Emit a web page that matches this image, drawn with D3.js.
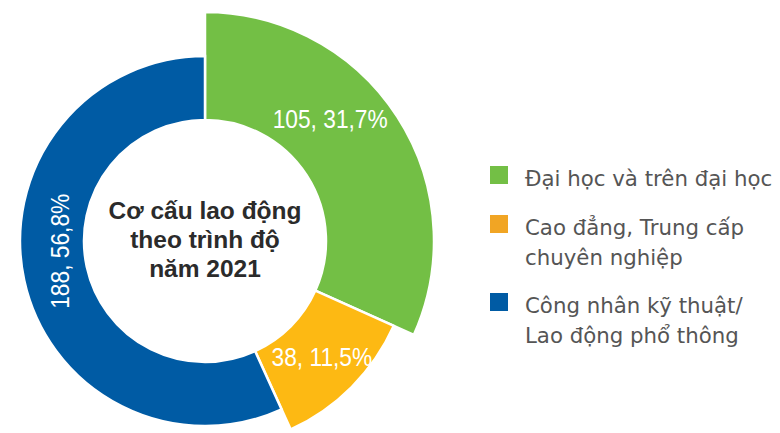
<!DOCTYPE html>
<html>
<head>
<meta charset="utf-8">
<script src="https://cdn.jsdelivr.net/npm/d3@7"></script>
<style>
  html, body { margin: 0; padding: 0; background: #ffffff; }
  svg { display: block; }
</style>
</head>
<body>
<div id="chart"></div>
<script>
// ---- data ----
const categories = ["Đại học và trên đại học", "Cao đẳng, Trung cấp chuyên nghiệp", "Công nhân kỹ thuật/ Lao động phổ thông"];
const values = [105, 38, 188];
const percentLabels = ["31,7%", "11,5%", "56,8%"];
const legendLines = [["Đại học và trên đại học"], ["Cao đẳng, Trung cấp", "chuyên nghiệp"], ["Công nhân kỹ thuật/", "Lao động phổ thông"]];
const titleLines = ["Cơ cấu lao động", "theo trình độ", "năm 2021"];

// ---- styles ----
const sliceColors = ["#73bf45", "#fdb913", "#005ba4"];
const legendColors = ["#73bf45", "#f1a524", "#005ba4"];
const outerRadii = [229, 207, 185];
const innerRadius = 121;
const labelAngleFrac = [0.40, 0.50, 0.54];
const labelRadiusFrac = [0.50, 0.51, 0.38];

const W = 780, H = 433;
const cx = 205, cy = 241;

const svg = d3.select("#chart").append("svg").attr("width", W).attr("height", H);

const pie = d3.pie().sort(null).value(d => d);
const arcs = pie(values);

const g = svg.append("g").attr("transform", `translate(${cx},${cy})`);

g.selectAll("path.slice")
  .data(arcs)
  .enter().append("path")
  .attr("class", "slice")
  .attr("d", (d, i) => d3.arc().innerRadius(innerRadius).outerRadius(outerRadii[i])(d))
  .attr("fill", (d, i) => sliceColors[i])
  .attr("stroke", "#ffffff")
  .attr("stroke-width", 2.5)
  .attr("stroke-linejoin", "miter");

// value labels (condensed look via horizontal scale)
g.selectAll("text.val")
  .data(arcs)
  .enter().append("text")
  .attr("class", "val")
  .attr("transform", (d, i) => {
    const a = d.startAngle + labelAngleFrac[i] * (d.endAngle - d.startAngle);
    const r = innerRadius + labelRadiusFrac[i] * (outerRadii[i] - innerRadius);
    const x = r * Math.sin(a), y = -r * Math.cos(a);
    return (i === 2 ? `translate(${x},${y}) rotate(-90)` : `translate(${x},${y})`) + " scale(0.91,1)";
  })
  .attr("text-anchor", "middle")
  .attr("dy", "0.36em")
  .attr("fill", "#ffffff")
  .style("font-family", "'Liberation Sans', Arial, sans-serif")
  .style("font-size", "25px")
  .text((d, i) => `${values[i]}, ${percentLabels[i]}`);

// center title
const title = svg.append("text")
  .attr("x", cx)
  .attr("text-anchor", "middle")
  .attr("fill", "#2b2b2b")
  .style("font-family", "'Liberation Sans', Arial, sans-serif")
  .style("font-weight", "bold")
  .style("font-size", "24.5px");
titleLines.forEach((t, i) => {
  title.append("tspan").attr("x", cx).attr("y", 219 + i * 29).text(t);
});

// legend
const legendX = 490, textX = 525;
const groupBaselines = [186, 235, 313];
const lineGap = 30;
const legend = svg.append("g");
categories.forEach((c, i) => {
  const base = groupBaselines[i];
  legend.append("rect")
    .attr("x", legendX).attr("y", base - 20)
    .attr("width", 18).attr("height", 18)
    .attr("fill", legendColors[i]);
  const t = legend.append("text")
    .attr("fill", "#555555")
    .style("font-family", "'DejaVu Sans', sans-serif")
    .style("font-size", "21.3px");
  legendLines[i].forEach((ln, j) => {
    t.append("tspan").attr("x", textX).attr("y", base + j * lineGap).text(ln);
  });
});
</script>
</body>
</html>
